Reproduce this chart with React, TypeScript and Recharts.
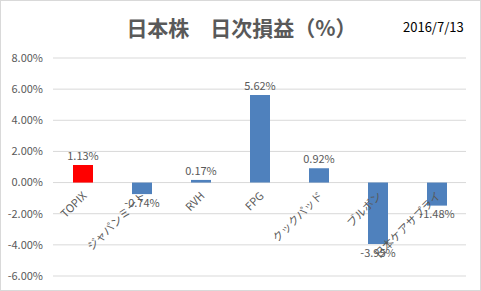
import React from "react";
import {
  ComposedChart,
  Bar,
  Cell,
  Scatter,
  XAxis,
  YAxis,
  CartesianGrid,
  LabelList,
} from "recharts";

const names = ["TOPIX", "ジャパンミート", "RVH", "FPG", "クックパッド", "ブルボン", "日本ケアサプライ"];
const returns = [1.13, -0.74, 0.17, 5.62, 0.92, -3.95, -1.48];
const yTicks = [-6, -4, -2, 0, 2, 4, 6, 8];

const data = names.map((name, i) => ({ name, value: returns[i], base: 0 }));

const FONT = '"Noto Sans CJK JP", "Noto Sans", sans-serif';
const pct = (v: number) => `${v.toFixed(2)}%`;

// category names drawn rotated just under the zero line, like Excel does
function CategoryTick(props: any) {
  const { cx, cy, payload } = props;
  const x = cx + 5;
  const y = cy + 14;
  return (
    <text
      x={x}
      y={y}
      transform={`rotate(-45 ${x} ${y})`}
      textAnchor="end"
      fontSize={11}
      fill="#595959"
      fontFamily={FONT}
    >
      {payload.name}
    </text>
  );
}

export default function App() {
  return (
    <div
      style={{
        position: "absolute",
        left: 0,
        top: 0,
        width: 481,
        height: 291,
        background: "#fff",
        border: "1px solid #D9D9D9",
        boxSizing: "border-box",
        fontFamily: FONT,
      }}
    >
      <div
        style={{
          position: "absolute",
          left: 0,
          width: 481,
          top: 11,
          textAlign: "center",
          fontSize: 21,
          fontWeight: "bold",
          color: "#595959",
          lineHeight: "30px",
        }}
      >
        日本株　日次損益（%）
      </div>
      <div
        style={{
          position: "absolute",
          left: 402,
          top: 17,
          fontSize: 13,
          color: "#000",
          lineHeight: "18px",
        }}
      >
        2016/7/13
      </div>
      <div style={{ position: "absolute", left: -1, top: -1 }}>
        <ComposedChart
          width={481}
          height={291}
          data={data}
          margin={{ top: 58, right: 15, bottom: 15, left: 0 }}
        >
          <CartesianGrid vertical={false} stroke="#D9D9D9" />
          <XAxis dataKey="name" hide />
          <YAxis
            domain={[-6, 8]}
            ticks={yTicks}
            width={53}
            axisLine={false}
            tickLine={false}
            tickMargin={4}
            tickFormatter={pct}
            tick={{ fontSize: 11, fill: "#595959", fontFamily: FONT }}
            interval={0}
          />
          <Bar dataKey="value" barSize={20} isAnimationActive={false}>
            {data.map((d, i) => (
              <Cell key={d.name} fill={i === 0 ? "#FF0000" : "#4F81BD"} />
            ))}
            <LabelList
              dataKey="value"
              position="top"
              formatter={(v: any) => pct(Number(v))}
              fontSize={11}
              fill="#595959"
              fontFamily={FONT}
            />
          </Bar>
          <Scatter dataKey="base" shape={<CategoryTick />} isAnimationActive={false} />
        </ComposedChart>
      </div>
    </div>
  );
}
